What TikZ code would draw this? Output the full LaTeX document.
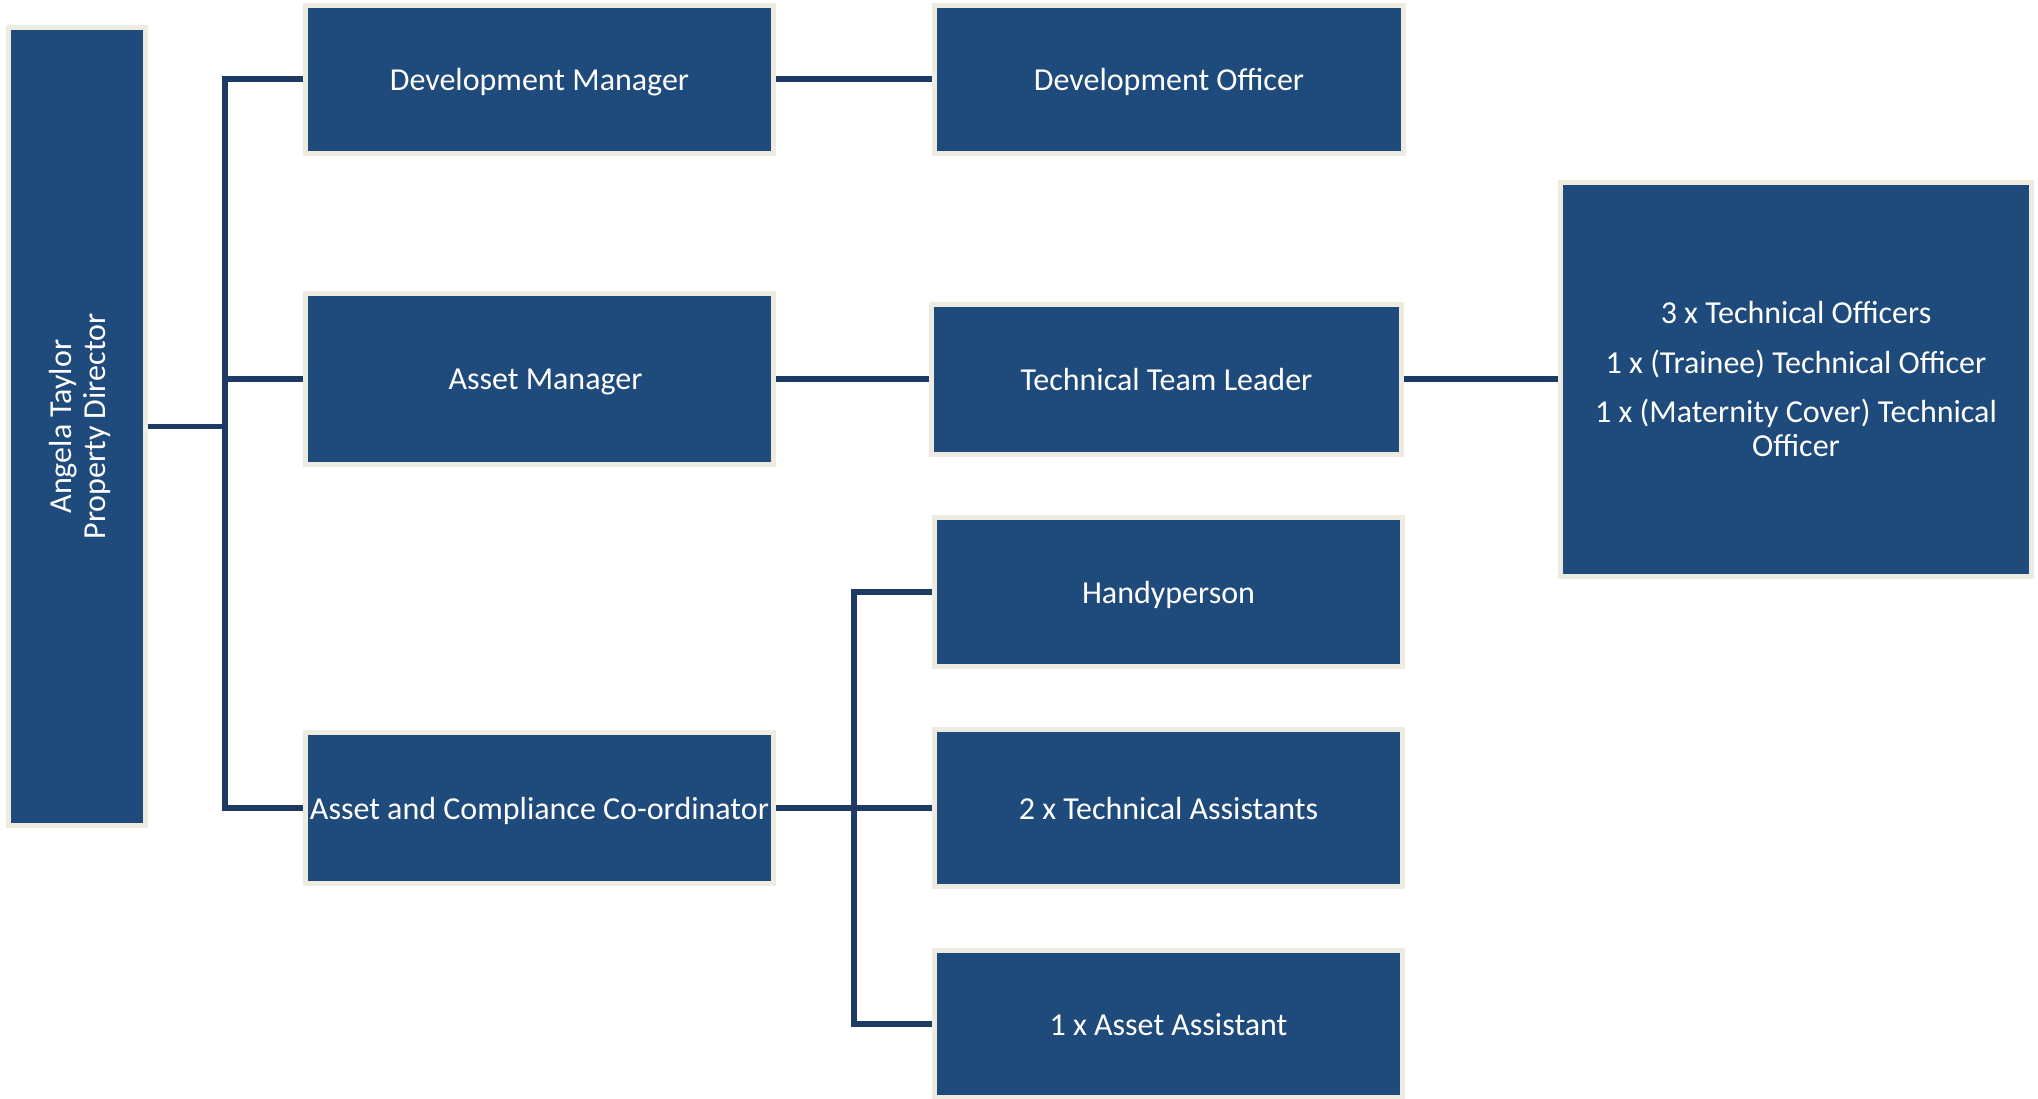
\documentclass[tikz,border=0pt]{standalone}
\usepackage{fontspec}
\setmainfont{Carlito}
\usepackage{tikz}

\definecolor{boxblue}{HTML}{1F4A7C}
\definecolor{boxrim}{HTML}{EEECE1}
\definecolor{linkblue}{HTML}{1C3A64}

\begin{document}
\begin{tikzpicture}[
		x=0.5pt, y=-0.5pt,
		every node/.style={rectangle, fill=boxblue, draw=boxrim, line width=2.5pt,
			text=white, align=center, inner sep=0pt, text depth=0pt,
			minimum width=234pt, minimum height=74.5pt,
			font=\fontsize{16}{17}\selectfont},
		link/.style={draw=linkblue, line width=2.75pt}
	]
  \useasboundingbox (0,0) rectangle (2038,1098);
  \node (dir) [minimum width=399pt, minimum height=68.25pt, rotate=90] at (77, 426.5) {Angela Taylor\\Property Director};
  \node (devmgr) [minimum height=74pt] at (539.5, 79) {Development Manager};
  \node (devoff) [minimum width=234.5pt, minimum height=74pt] at (1169, 79) {Development Officer};
  \node (assetmgr) [minimum height=85.5pt] at (539.5, 379) {\hspace*{6pt}Asset Manager};
  \node (teamlead) [minimum width=235pt, minimum height=75pt] at (1166.5, 379) {Technical Team Leader};
  \node (techoff) [minimum width=235.5pt, minimum height=197pt] at (1796, 379) {3 x Technical Officers\\[7.7pt]1 x (Trainee) Technical Officer\\[7.7pt]1 x (Maternity Cover) Technical\\Officer};
  \node (coord) [minimum height=75.5pt] at (539.5, 808) {Asset and Compliance Co-ordinator};
  \node (handy) at (1168.5, 592) {Handyperson};
  \node (techasst) [minimum height=78.5pt] at (1168.5, 808) {2 x Technical Assistants};
  \node (assetasst) [minimum height=73.5pt] at (1168.5, 1024) {1 x Asset Assistant};
  \coordinate (spine) at (225, 426.5);
  \coordinate (subspine) at (854, 808);
  \draw[link] (dir.south) -- (spine);
  \draw[link] (devmgr.west) -| (spine) |- (coord.west);
  \draw[link] (assetmgr.west) -- (spine |- assetmgr.west);
  \draw[link] (devmgr.east) -- (devoff.west);
  \draw[link] (assetmgr.east) -- (teamlead.west);
  \draw[link] (teamlead.east) -- (techoff.west);
  \draw[link] (coord.east) -- (techasst.west);
  \draw[link] (handy.west) -| (subspine) |- (assetasst.west);
\end{tikzpicture}
\end{document}
